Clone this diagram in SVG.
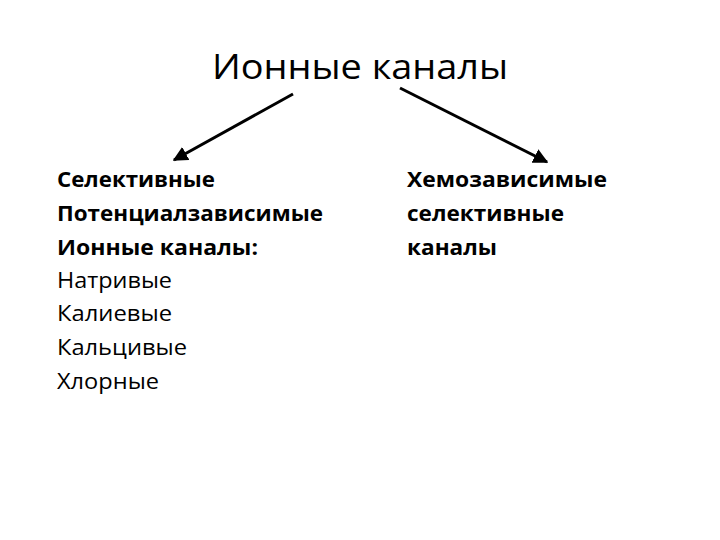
<svg xmlns="http://www.w3.org/2000/svg" width="720" height="540" viewBox="0 0 720 540">
<defs>
<marker id="ah" viewBox="0 0 10 10" refX="9" refY="5" markerWidth="5" markerHeight="5" orient="auto" markerUnits="strokeWidth">
<path d="M0,0 L10,5 L0,10 z" fill="#000"/>
</marker>
<style>
.t{font-family:"Open Sans","Liberation Sans",sans-serif;fill:#000}
.title{font-size:35px}
.b{font-size:22px;font-weight:bold}
.n{font-size:22px}
.c{stroke:#000;stroke-width:3;fill:none}
</style>
</defs>
<rect width="720" height="540" fill="#fff"/>
<g id="title"><text class="t title" x="212" y="79" textLength="296" lengthAdjust="spacingAndGlyphs">Ионные каналы</text></g>
<g id="left">
<text class="t b" x="57" y="187" textLength="158" lengthAdjust="spacingAndGlyphs">Селективные</text>
<text class="t b" x="57" y="221" textLength="266" lengthAdjust="spacingAndGlyphs">Потенциалзависимые</text>
<text class="t b" x="57" y="255" textLength="201" lengthAdjust="spacingAndGlyphs">Ионные каналы:</text>
<text class="t n" x="57" y="288" textLength="115" lengthAdjust="spacingAndGlyphs">Натривые</text>
<text class="t n" x="57" y="321" textLength="115" lengthAdjust="spacingAndGlyphs">Калиевые</text>
<text class="t n" x="57" y="355" textLength="130" lengthAdjust="spacingAndGlyphs">Кальцивые</text>
<text class="t n" x="57" y="389" textLength="102" lengthAdjust="spacingAndGlyphs">Хлорные</text>
</g>
<g id="right">
<text class="t b" x="407" y="187" textLength="200" lengthAdjust="spacingAndGlyphs">Хемозависимые</text>
<text class="t b" x="407" y="221" textLength="157" lengthAdjust="spacingAndGlyphs">селективные</text>
<text class="t b" x="407" y="255" textLength="90" lengthAdjust="spacingAndGlyphs">каналы</text>
</g>
<g id="connectors">
<line class="c" x1="293" y1="94" x2="174" y2="160" marker-end="url(#ah)"/>
<line class="c" x1="400" y1="88" x2="547" y2="162" marker-end="url(#ah)"/>
</g>
</svg>
